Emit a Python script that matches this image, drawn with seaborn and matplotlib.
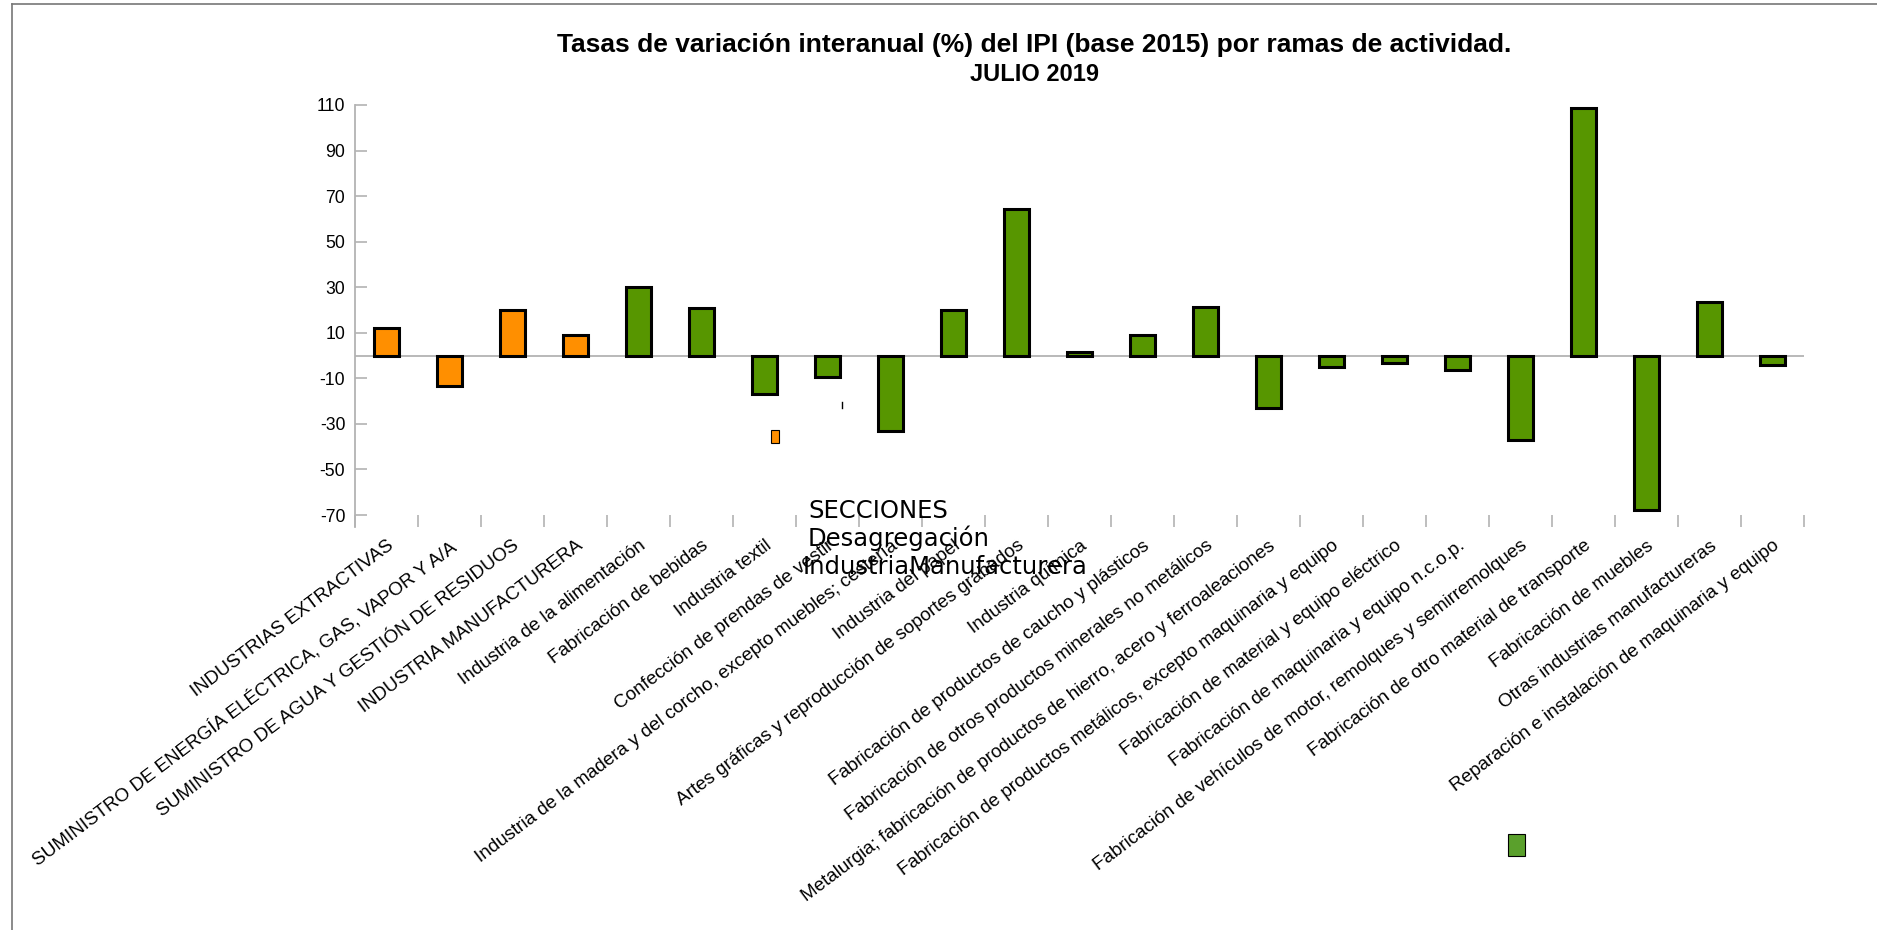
import matplotlib
matplotlib.use("Agg")
import matplotlib.pyplot as plt
import seaborn as sns
import pandas as pd
from matplotlib.patches import Rectangle
from matplotlib.lines import Line2D

# Data
ramas = [
    "INDUSTRIAS EXTRACTIVAS",
    "SUMINISTRO DE ENERGÍA ELÉCTRICA, GAS, VAPOR Y A/A",
    "SUMINISTRO DE AGUA Y GESTIÓN DE RESIDUOS",
    "INDUSTRIA MANUFACTURERA",
    "Industria de la alimentación",
    "Fabricación de bebidas",
    "Industria textil",
    "Confección de prendas de vestir",
    "Industria de la madera y del corcho, excepto muebles; cestería",
    "Industria del papel",
    "Artes gráficas y reproducción de soportes grabados",
    "Industria química",
    "Fabricación de productos de caucho y plásticos",
    "Fabricación de otros productos minerales no metálicos",
    "Metalurgia; fabricación de productos de hierro, acero y ferroaleaciones",
    "Fabricación de productos metálicos, excepto maquinaria y equipo",
    "Fabricación de material y equipo eléctrico",
    "Fabricación de maquinaria y equipo n.c.o.p.",
    "Fabricación de vehículos de motor, remolques y semirremolques",
    "Fabricación de otro material de transporte",
    "Fabricación de muebles",
    "Otras industrias manufactureras",
    "Reparación e instalación de maquinaria y equipo",
]
tasas = [11.9, -13.2, 20.0, 8.9, 29.9, 20.8, -16.7, -9.4, -33.2, 19.8, 64.4, 1.6,
         8.9, 21.1, -23.0, -5.0, -3.2, -6.4, -37.0, 108.9, -67.9, 23.3, -4.2]
grupos = ["SECCIONES"] * 4 + ["Desagregación IndustriaManufacturera"] * 19
y_ticks = [-70, -50, -30, -10, 10, 30, 50, 70, 90, 110]

df = pd.DataFrame({"rama": ramas, "tasa": tasas, "grupo": grupos})
colores = {"SECCIONES": "#ff8f00", "Desagregación IndustriaManufacturera": "#579600"}

plt.rcParams["axes.unicode_minus"] = False

W, H = 1877, 930
fig = plt.figure(figsize=(W / 100, H / 100), dpi=100)
ax = fig.add_axes([355 / W, 1 - 515 / H, (1804 - 355) / W, (515 - 105) / H])

sns.barplot(data=df, x="rama", y="tasa", hue="grupo", palette=colores, dodge=False,
            saturation=1, width=0.4, edgecolor="black", linewidth=2.2, legend=False,
            ax=ax, zorder=3)

# Axes look
gris = "#b3b3b3"
ax.axhline(0, color=gris, lw=1.3, zorder=1)
ax.set_ylim(-70, 110)
ax.set_xlim(-0.5, len(ramas) - 0.5)
ax.set_yticks(y_ticks)
ax.set_xlabel("")
ax.set_ylabel("")
for s in ["top", "right", "bottom"]:
    ax.spines[s].set_visible(False)
ax.spines["left"].set_color(gris)
ax.spines["left"].set_linewidth(1.3)
ax.spines["left"].set_bounds(-75.3, 110)

ax.tick_params(axis="y", direction="in", length=8.6, width=1.2, color=gris, pad=7,
               labelsize=12.7, labelcolor="black")
ax.set_xticks(range(len(ramas)))
ax.set_xticks([i - 0.5 for i in range(len(ramas) + 1)], minor=True)
ax.tick_params(axis="x", which="major", length=0, pad=16)
ax.tick_params(axis="x", which="minor", direction="out", length=8.6, width=1.2, color=gris)
ax.set_xticklabels(ramas, rotation=37, ha="right", rotation_mode="anchor", fontsize=13.6)
for lab in ax.get_xticklabels() + ax.get_yticklabels():
    lab.set_family("Liberation Sans")

# Title
fig.text(1034 / W, 1 - 52 / H, "Tasas de variación interanual (%) del IPI (base 2015) por ramas de actividad.",
         ha="center", va="baseline", fontsize=19, fontweight="bold", family="Liberation Sans")
fig.text(1034 / W, 1 - 81 / H, "JULIO 2019", ha="center", va="baseline", fontsize=17,
         fontweight="bold", family="Liberation Sans")

# Legend (as it appears, scattered)
fig.text(808 / W, 1 - 518 / H, "SECCIONES", ha="left", va="baseline", fontsize=17.5, family="DejaVu Sans")
fig.text(808 / W, 1 - 546 / H, "Desagregación", ha="left", va="baseline", fontsize=17.5, family="DejaVu Sans")
fig.text(803 / W, 1 - 574 / H, "IndustriaManufacturera", ha="left", va="baseline", fontsize=17.5,
         family="DejaVu Sans")
fig.add_artist(Rectangle((771 / W, 1 - 443 / H), 8 / W, 13 / H, transform=fig.transFigure,
                         facecolor=colores["SECCIONES"], edgecolor="black", lw=0.8))
fig.add_artist(Rectangle((1508 / W, 1 - 856 / H), 17 / W, 22 / H, transform=fig.transFigure,
                         facecolor="#5aa02c", edgecolor="black", lw=0.8))
fig.add_artist(Line2D([842 / W, 842 / W], [1 - 402 / H, 1 - 408 / H], transform=fig.transFigure,
                      color="black", lw=1))

# Outer frame (top and left only)
fig.add_artist(Line2D([12 / W, 1], [1 - 4 / H, 1 - 4 / H], transform=fig.transFigure, color="#777777", lw=1.2))
fig.add_artist(Line2D([12 / W, 12 / W], [0, 1 - 4 / H], transform=fig.transFigure, color="#777777", lw=1.2))

fig.savefig("out.png", dpi=100)
